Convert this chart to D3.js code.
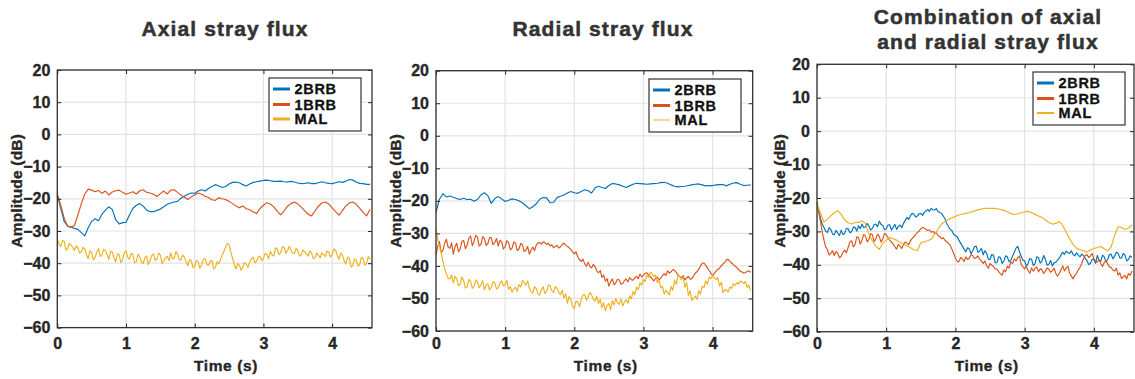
<!DOCTYPE html>
<html>
<head>
<meta charset="utf-8">
<script src="https://cdn.jsdelivr.net/npm/d3@7"></script>
<style>
  body { margin: 0; background: #fff; }
  svg { font-family: Arial, "Liberation Sans", sans-serif; font-weight: bold; }
</style>
</head>
<body>
<svg id="chart" width="1135" height="379"></svg>
<script>
// sample times (s): smooth traces every 0.05 s, noisy traces every 0.025 s
const time = d3.range(92).map(i => +(i * 0.05).toFixed(2));
const timeFine = d3.range(183).map(i => +(i * 0.025).toFixed(3));

const xTicks = [0, 1, 2, 3, 4];
const yTicks = [-60, -50, -40, -30, -20, -10, 0, 10, 20];
const seriesNames = ["2BRB", "1BRB", "MAL"];
const colors = ["#0072BD", "#D95319", "#EDB120"];

// Axial stray flux (dB)
const axial2BRB = [-18.8,-23,-27,-28.5,-28.8,-29.2,-29.5,-30.5,-31.5,-29,-27,-26.2,-26.8,-24.8,-23.5,-22.5,-23.3,-26.5,-27.8,-27.4,
  -27.3,-25,-23,-22,-21.5,-22.3,-23.5,-24,-24,-23.6,-23.2,-22.5,-21.7,-21.3,-21,-20.8,-19.8,-19.2,-18.6,-18.2,
  -18.3,-17.6,-17.2,-17.6,-16.8,-16.2,-15.6,-16,-16.5,-16.2,-15.4,-14.9,-14.8,-15,-15.6,-16,-15.4,-14.9,-14.7,-14.5,
  -14.3,-14.2,-14.4,-14.6,-14.6,-14.5,-14.7,-14.8,-14.6,-14.8,-15.1,-15.3,-15.2,-15,-15.3,-15.3,-15,-14.7,-15,-15.2,
  -15.3,-15,-14.7,-14.9,-14.5,-14,-14.2,-14.8,-15.2,-15.3,-15.5,-15.5];
const axial1BRB = [-18.5,-22,-26,-28.5,-28.8,-28.3,-25,-21.5,-18.5,-17,-17.3,-17.8,-17.4,-18.3,-17.6,-18.8,-17.9,-17.5,-17.3,-18,
  -18.6,-18.2,-17.8,-18.5,-17.5,-17.2,-18,-18.2,-18.6,-19.3,-18.4,-17.6,-18.5,-17.3,-17.2,-18,-18.8,-19.5,-20.2,-19.4,
  -18.8,-18.2,-18.6,-19.2,-19.6,-20.3,-20.5,-19.7,-20,-20.2,-20.8,-21.5,-22.2,-22.8,-22.2,-23.1,-23.4,-24,-24.6,-23,
  -22,-21.2,-21.6,-22.5,-23.8,-25,-23.8,-22.3,-21.5,-21,-21.6,-22.6,-23.7,-24.8,-25.3,-23.8,-22.3,-21.3,-21,-21.6,
  -22.8,-24,-25.1,-23.6,-22.2,-21.3,-21,-21.7,-22.9,-24.2,-25.3,-23.3];
const axialMAL = [-32.3,-34.1,-34.8,-33.0,-33.2,-35.9,-35.5,-33.8,-34.4,-35.2,-36,-34.6,-35.2,-36.9,-36.4,-35.1,-35.6,-37.3,-38.6,-36.1,
  -36.8,-38.9,-38.2,-36.6,-35.4,-37.9,-37.5,-35.7,-36.1,-37.4,-38.8,-36.3,-36.5,-38.3,-39.6,-37.1,-37.4,-39.8,-38.9,-36.8,
  -36.2,-38.1,-38.8,-36.9,-37.3,-39.9,-39.5,-37.2,-38,-39.6,-40.1,-38.2,-37.8,-40.4,-39.2,-37.6,-37.1,-39.1,-38.7,-36.9,
  -37.5,-40.1,-39.4,-38.3,-37.9,-39.2,-36.8,-38.7,-38.5,-36.4,-37.2,-38.9,-39,-37.5,-38.1,-39.6,-40.8,-38.9,-39.2,-41.4,
  -41,-39.1,-39.5,-41.6,-40.4,-38.8,-38.6,-40.3,-40.7,-39.4,-39.1,-41.8,-41.3,-39.6,-40.2,-38.9,-37.5,-36.3,-35,-33.9,
  -34.3,-36.4,-38.5,-40.4,-41.8,-40.1,-40.6,-42.2,-41.2,-39.8,-40.4,-41.3,-39.6,-38.6,-38.2,-39.9,-39.4,-38.1,-37.8,-39.2,
  -38.5,-36.9,-37.2,-38.6,-36.3,-37.4,-37.8,-35.2,-35.6,-37.3,-36.8,-34.9,-35,-36.9,-36.2,-34.8,-35.8,-36.9,-37,-35.4,
  -36.1,-37.8,-37.4,-35.9,-36.4,-37.1,-37.8,-36.2,-36.9,-38.6,-38.3,-36.9,-37.5,-38.4,-36.8,-37.3,-38,-36.2,-36.6,-38.1,
  -37.3,-35.6,-35.9,-37.6,-38.8,-36.8,-37.6,-39.3,-40.2,-38.1,-38.4,-41.2,-40.8,-38.7,-39,-40.9,-40.5,-38.2,-38.6,-40.6,
  -40.1,-37.9,-38.8];

// Radial stray flux (dB)
const radial2BRB = [-23.5,-19.5,-17.8,-18.8,-18.5,-18.9,-19.3,-19.6,-19.2,-19.6,-19.5,-20.1,-19.6,-18.2,-17.5,-18.4,-20.8,-19.3,-18.7,-19.4,
  -20.2,-19.8,-19.4,-19.6,-20,-20.6,-21.5,-22.4,-21.8,-20.9,-19.5,-19,-19.1,-20.6,-20.5,-19,-18.6,-18.2,-17.6,-17.1,
  -17.5,-17.7,-17.1,-16.6,-16.9,-17.6,-16,-15.5,-15.9,-16.2,-15.3,-14.7,-14.8,-15.1,-15.5,-15.9,-15.4,-14.9,-14.6,-14.7,
  -14.8,-14.9,-14.8,-14.7,-14.6,-14.4,-14.3,-14.6,-15.1,-15.5,-15.7,-15.6,-15.5,-15.3,-15.1,-14.9,-14.8,-15.1,-15.4,-15.3,
  -15.3,-15.1,-15,-15,-15.4,-14.9,-14.5,-14.4,-14.9,-15.3,-15.2,-15.1];
const radial1BRB = [-36.5,-34.0,-32.5,-35.8,-35.2,-33.1,-31.8,-34.2,-34.6,-32.9,-36.4,-34.1,-33,-35.6,-34.8,-32.4,-32.2,-34.7,-33.6,-31.5,
  -30.8,-33.8,-32.4,-30.6,-31.2,-33.9,-33.4,-31.0,-31.6,-33.7,-33.1,-31.2,-31.4,-33.5,-32.8,-31.6,-33.9,-32.1,-32.6,-34.8,
  -34.1,-32.2,-32.9,-35.1,-34.5,-32.6,-33,-35.3,-34.8,-33.1,-33.5,-35.6,-35.2,-34.0,-36.4,-35.1,-34.2,-35.3,-33.6,-32.9,
  -32.8,-33.3,-32.6,-32.9,-33.4,-33.0,-33.9,-33.5,-34.4,-34.0,-33.7,-34.5,-34.2,-33.4,-33,-33.6,-34,-34.4,-35,-35.6,
  -36.3,-35.7,-37.2,-38.1,-38.6,-37.9,-39.3,-40.1,-38.9,-40.2,-40.6,-39.5,-40.2,-41.5,-42.1,-41.4,-43.5,-42.8,-44.7,-43.9,
  -46.2,-44.9,-44,-45.8,-45.2,-44.1,-44.3,-45.6,-45.4,-44.5,-44,-44.9,-43.6,-44.2,-44.4,-43.7,-43.2,-43.9,-42.5,-43.4,
  -42.9,-42.3,-42.1,-42.8,-43.2,-44.0,-44.6,-43.8,-43.4,-44.3,-43.8,-43.0,-42.4,-42.9,-41.5,-42.2,-41.8,-41.1,-41.4,-42.0,
  -42.8,-43.3,-43.6,-43.0,-44.3,-43.7,-43.2,-44.1,-43.9,-43.1,-42.2,-41.8,-41,-40.0,-39.2,-39.1,-39.8,-40.6,-41.4,-42.2,
  -42.9,-42.3,-41.6,-41.1,-40.7,-40.0,-39.4,-38.9,-38.1,-38.0,-38.6,-39.1,-39.6,-40.0,-40.5,-41.1,-41.6,-41.9,-42.2,-42.0,
  -41.7,-41.5,-42];
const radialMAL = [-29,-31.8,-34,-36.1,-38.6,-40.9,-42.5,-43.8,-44,-42.8,-45.2,-43.2,-44,-46.1,-45.6,-43.4,-44.5,-46.8,-46.5,-44.1,
  -44.7,-46.9,-46.2,-44.3,-44.9,-46.7,-45.8,-44.6,-47.3,-45.9,-45.5,-47.4,-46.4,-44.8,-45.2,-47.1,-46.7,-45.3,-44.6,-46.1,
  -45.8,-44.4,-47.2,-46.3,-48.1,-46.9,-46.6,-47.8,-45.7,-46.5,-44.4,-45.1,-45.9,-44.6,-46.8,-47.9,-48.3,-46.4,-47,-48.6,
  -49,-47.2,-46.4,-48.5,-47.8,-45.9,-46.1,-47.6,-48.2,-46.4,-46.9,-48.1,-48.8,-47.5,-49.8,-48.6,-51.5,-49.4,-50.3,-52.4,
  -53.2,-50.9,-51,-52.6,-50.2,-48.9,-48.8,-50.5,-49.6,-48.1,-48.9,-50.2,-50.8,-49.3,-51.6,-50.2,-52.9,-51.3,-53.8,-52.1,
  -51.5,-53.4,-50.6,-52.0,-50,-51.3,-51.8,-50.2,-52.3,-51.1,-50.4,-51.5,-49.2,-50.1,-47.8,-48.9,-46.5,-47.3,-45.2,-45.9,
  -44.1,-44.8,-42.8,-43.5,-41.9,-42.4,-43.2,-42.8,-45.1,-44.3,-46.8,-46.2,-48.6,-47.5,-48.2,-48.9,-46.3,-47.5,-44.4,-45.6,
  -42.9,-43.3,-44.2,-43.4,-46.6,-45.1,-49.1,-47.6,-50.6,-49.8,-49.3,-50.3,-47.6,-48.7,-46.2,-46.6,-44.6,-45.6,-43.5,-43.9,
  -42.9,-43.6,-44.2,-43.5,-46.1,-45.0,-48.2,-47.3,-47.4,-48.0,-46.5,-46.9,-45.5,-46.0,-45.1,-45.6,-44.6,-44.9,-45.4,-44.8,
  -46.6,-45.9,-47.6];

// Combination of axial and radial stray flux (dB)
const combo2BRB = [-21.3,-23.9,-26,-27.8,-28.8,-29.9,-30.3,-28.9,-29.4,-30.8,-31,-29.7,-30.5,-31.2,-29.6,-30.9,-30.6,-29.1,-29.2,-30.4,
  -30.1,-28.7,-28.8,-29.9,-28.3,-29.2,-27.8,-28.9,-28.6,-27.6,-28.4,-29.6,-29.1,-28.0,-27.8,-28.6,-26.9,-27.9,-28.2,-29.5,
  -29.2,-28.1,-28,-29.6,-28.8,-27.9,-29.4,-28.5,-28.1,-28.9,-27.6,-26.7,-25.8,-26.4,-25.3,-24.6,-24.8,-25.7,-25.4,-24.7,
  -24.6,-25.2,-24.3,-23.9,-23.4,-24.0,-23.1,-23.5,-23.6,-23.2,-24.1,-24.3,-24.6,-25.4,-26.3,-27.6,-28.6,-29.4,-29.8,-30.9,
  -31.2,-31.6,-32.6,-33.5,-34.4,-35.3,-36.1,-34.9,-35.2,-36.7,-35.8,-34.6,-34.4,-36.2,-35.9,-35.1,-37,-35.8,-36.5,-38.3,
  -38.4,-36.9,-37.1,-39.4,-39.3,-37.6,-37.8,-39.6,-38.9,-37.3,-37.6,-39.1,-38.6,-37.4,-36.2,-35.0,-34.5,-36.1,-37.4,-38.6,
  -38.8,-40.4,-39.6,-38.1,-38.3,-40.2,-39.7,-37.6,-37.8,-39.5,-38.9,-37.2,-38.4,-40.1,-39.8,-38.7,-40.3,-39.4,-39.2,-38.6,
  -38,-37.1,-36.2,-36.9,-35.9,-36.4,-36.6,-35.8,-36.9,-37.3,-36.4,-37.1,-37.6,-36.8,-37.2,-38.1,-38.7,-39.9,-39.6,-38.4,
  -38.3,-39.5,-37.2,-38.6,-38.9,-37.1,-37.6,-39.2,-38.4,-36.9,-36.8,-38.2,-37.4,-36.2,-36.5,-37.9,-38,-36.6,-37.1,-38.8,
  -38.4,-37.3,-37.8];
const combo1BRB = [-21.8,-24.2,-27,-30.1,-32.5,-34.6,-35.4,-37.1,-36.5,-35.8,-37.2,-36.0,-36.6,-37.9,-37.4,-36.2,-35.6,-36.4,-34.8,-33.2,
  -32.8,-34.6,-33.9,-31.6,-31.9,-33.8,-32.6,-30.9,-31.4,-33.1,-32.4,-30.7,-31,-33.0,-32.2,-30.8,-31.5,-33.2,-32.3,-30.6,
  -31,-31.8,-32.6,-33.1,-33.8,-34.6,-35.3,-33.9,-34.4,-35.1,-33.9,-33.2,-33.5,-34.0,-32.8,-32.1,-31.6,-31.0,-30.3,-29.9,
  -29.2,-28.8,-29,-29.4,-29.7,-29.5,-30.2,-30.0,-30.6,-30.4,-31.3,-31.6,-32.2,-31.9,-32.7,-33.1,-33.6,-34.2,-35.3,-36.6,
  -38,-38.9,-39.1,-37.8,-38.2,-39.0,-37.6,-38.4,-38,-37.0,-37.2,-38.1,-37.8,-37.3,-38.3,-38.9,-39.6,-38.8,-40.2,-41.0,
  -39.6,-40.1,-40.5,-41.2,-41.3,-42.0,-42.6,-43.1,-41.5,-42.1,-40.4,-41.0,-39.1,-39.6,-38.2,-38.8,-37.9,-37.3,-39.9,-40.6,
  -41.2,-40.4,-41.7,-42.5,-40.9,-41.9,-41.1,-40.6,-42.1,-41.2,-41.5,-42.6,-41.8,-40.9,-41.3,-42.2,-41.8,-41.0,-42.5,-43.4,
  -42.6,-41.5,-40.3,-41.8,-41,-40.4,-42.5,-43.3,-44.2,-43.1,-42.6,-41.5,-40.7,-39.6,-38.2,-37.3,-36.9,-37.8,-37.3,-36.6,
  -38.2,-38.9,-39.2,-38.4,-39.6,-40.5,-39.3,-38.8,-39.7,-40.6,-40.8,-41.6,-41.8,-41.0,-43.1,-42.4,-44.1,-43.5,-43.2,-44.2,
  -42.6,-43.1,-41.8];
const comboMAL = [-21.8,-24.5,-27.2,-26.4,-25.3,-24.4,-23.8,-24.9,-26.6,-27.4,-27.8,-27.3,-27.3,-26.8,-27.6,-30.8,-32.8,-34.4,-35.4,-33.6,
  -32.6,-31.8,-32.2,-32.6,-33.3,-33.7,-34.3,-34.9,-35.5,-35.8,-33.4,-33,-32.8,-32.3,-30.8,-29.2,-27.8,-27,-26.4,-25.9,
  -25.5,-25.1,-24.8,-24.6,-24.4,-24,-23.7,-23.4,-23.2,-23.1,-23.1,-23.1,-23.2,-23.4,-23.7,-24.1,-24.6,-25,-24.7,-24.4,
  -24.1,-24,-24.4,-24.9,-25.4,-25.8,-26.6,-27.3,-27.8,-27.6,-27,-28.2,-30.2,-32.2,-33.9,-35,-35.5,-35.8,-36.2,-35.5,
  -35.1,-34.8,-34.5,-35.2,-35.8,-34.6,-31.2,-28.6,-28.8,-29.4,-29,-28];

const panels = [
  { title: ["Axial stray flux"], titleX: 225, titleY: [36],
    series: [axial2BRB, axial1BRB, axialMAL], legendWidths: [3, 3, 3],
    left: 57.3, top: 70, right: 372, bottom: 327.6,
    yLabelX: 21.5, xLabelX: 226, legendX: 269, legendY: 78 },
  { title: ["Radial stray flux"], titleX: 603, titleY: [36],
    series: [radial2BRB, radial1BRB, radialMAL], legendWidths: [3, 3, 1],
    left: 436, top: 70.7, right: 752.7, bottom: 331,
    yLabelX: 401, xLabelX: 605.8, legendX: 649, legendY: 79 },
  { title: ["Combination of axial", "and radial stray flux"], titleX: 988, titleY: [24, 49],
    series: [combo2BRB, combo1BRB, comboMAL], legendWidths: [3, 3, 2],
    left: 817, top: 64.3, right: 1134, bottom: 331.7,
    yLabelX: 784.5, xLabelX: 986.7, legendX: 1033, legendY: 72 }
];

const svg = d3.select("#chart");
const textColor = "#262626";

function drawPanel(p) {
  const x = d3.scaleLinear().domain([0, 4.58]).range([p.left, p.right]);
  const y = d3.scaleLinear().domain([-60, 20]).range([p.bottom, p.top]);
  const g = svg.append("g");

  // grid
  g.append("g").selectAll("line").data(xTicks).enter().append("line")
    .attr("x1", d => x(d)).attr("x2", d => x(d))
    .attr("y1", p.top).attr("y2", p.bottom)
    .attr("stroke", "#e3e3e3").attr("stroke-width", 1.2);
  g.append("g").selectAll("line").data(yTicks).enter().append("line")
    .attr("x1", p.left).attr("x2", p.right)
    .attr("y1", d => y(d)).attr("y2", d => y(d))
    .attr("stroke", "#e3e3e3").attr("stroke-width", 1.2);

  // data lines
  p.series.forEach((s, k) => {
    const t = s.length === time.length ? time : timeFine;
    const line = d3.line().x((d, i) => x(t[i])).y(d => y(d));
    g.append("path")
      .datum(s)
      .attr("d", line)
      .attr("fill", "none")
      .attr("stroke", colors[k])
      .attr("stroke-width", 1.15)
      .attr("stroke-linejoin", "round");
  });

  // axes (ticks point inward)
  const xAxis = g.append("g")
    .attr("transform", "translate(0," + p.bottom + ")")
    .call(d3.axisBottom(x).tickValues(xTicks).tickSize(-4)
      .tickPadding(349.3 - p.bottom - 11.3).tickFormat(d3.format("d")));
  const yAxis = g.append("g")
    .attr("transform", "translate(" + p.left + ",0)")
    .call(d3.axisLeft(y).tickValues(yTicks).tickSize(-4).tickPadding(7));
  g.append("g")
    .attr("transform", "translate(" + p.right + ",0)")
    .call(d3.axisRight(y).tickValues(yTicks).tickSize(-4).tickFormat(""));
  g.append("g")
    .attr("transform", "translate(0," + p.top + ")")
    .call(d3.axisTop(x).tickValues(xTicks).tickSize(-4).tickFormat(""));

  g.selectAll(".domain").remove();
  g.selectAll(".tick line").attr("stroke", textColor).attr("stroke-width", 1);
  [xAxis, yAxis].forEach(a => a.selectAll("text")
    .attr("fill", textColor)
    .attr("stroke", textColor).attr("stroke-width", 0.35)
    .style("font-size", "16px")
    .style("font-weight", "bold")
    .style("font-family", "Arial, 'Liberation Sans', sans-serif"));

  // box
  g.append("rect")
    .attr("x", p.left).attr("y", p.top)
    .attr("width", p.right - p.left).attr("height", p.bottom - p.top)
    .attr("fill", "none").attr("stroke", "#333").attr("stroke-width", 1.3);

  // titles and labels
  p.title.forEach((t, i) => {
    svg.append("text")
      .attr("x", p.titleX).attr("y", p.titleY[i])
      .attr("text-anchor", "middle")
      .attr("fill", "#333").attr("stroke", "#333").attr("stroke-width", 0.5)
      .style("font-size", "21px")
      .style("letter-spacing", "1.1px")
      .text(t);
  });
  svg.append("text")
    .attr("transform", "translate(" + p.yLabelX + "," + 190.8 + ") rotate(-90)")
    .attr("text-anchor", "middle")
    .attr("fill", textColor).attr("stroke", textColor).attr("stroke-width", 0.35)
    .style("font-size", "15.5px")
    .style("letter-spacing", "0.2px")
    .text("Amplitude (dB)");
  svg.append("text")
    .attr("x", p.xLabelX).attr("y", 370.5)
    .attr("text-anchor", "middle")
    .attr("fill", textColor).attr("stroke", textColor).attr("stroke-width", 0.35)
    .style("font-size", "15.5px")
    .style("letter-spacing", "0.6px")
    .text("Time (s)");

  // legend
  const lg = svg.append("g").attr("transform", "translate(" + p.legendX + "," + p.legendY + ")");
  lg.append("rect")
    .attr("width", 92).attr("height", 53)
    .attr("fill", "#fff").attr("stroke", "#333").attr("stroke-width", 1.2);
  const rowY = [11, 26.5, 41];
  seriesNames.forEach((name, k) => {
    lg.append("line")
      .attr("x1", 4).attr("x2", 21)
      .attr("y1", rowY[k]).attr("y2", rowY[k])
      .attr("stroke", colors[k]).attr("stroke-width", p.legendWidths[k]);
    lg.append("text")
      .attr("x", 25.5).attr("y", rowY[k] + 5.3)
      .attr("fill", "#111").attr("stroke", "#111").attr("stroke-width", 0.3)
      .style("font-size", "14.5px")
      .style("letter-spacing", "0.7px")
      .text(name);
  });
}

panels.forEach(drawPanel);
</script>
</body>
</html>
